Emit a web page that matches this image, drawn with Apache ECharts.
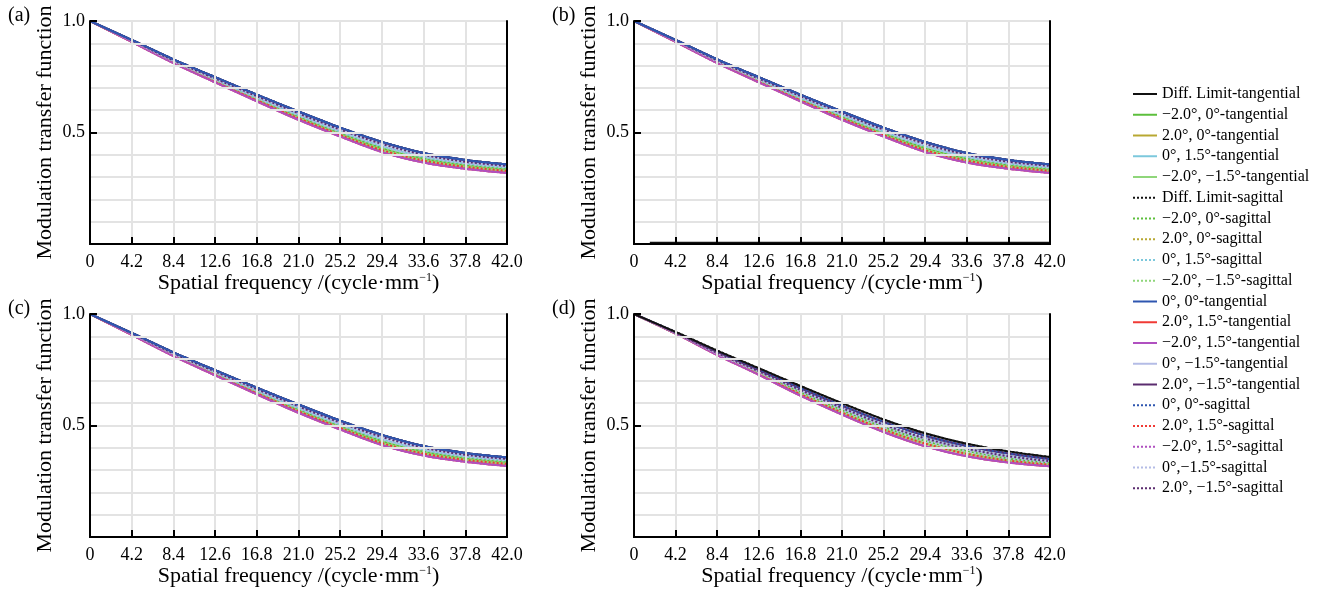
<!DOCTYPE html>
<html>
<head>
<meta charset="utf-8">
<script src="https://cdn.jsdelivr.net/npm/echarts@6/dist/echarts.min.js"></script>
<style>
  html, body { margin: 0; padding: 0; background: #fff; }
  #chart { width: 1324px; height: 592px; }
</style>
</head>
<body>
<div id="chart"></div>
<script>
// spatial frequency samples (cycle/mm)
const freqs = [0, 4.2, 8.4, 12.6, 16.8, 21.0, 25.2, 29.4, 33.6, 37.8, 42.0];

// MTF curves (a)-(c), top to bottom
const curveL1 = [1, 0.915, 0.828, 0.748, 0.670, 0.594, 0.522, 0.458, 0.408, 0.377, 0.357];
const curveL2 = [1, 0.913, 0.823, 0.742, 0.663, 0.586, 0.513, 0.449, 0.400, 0.369, 0.350];
const curveL3 = [1, 0.911, 0.819, 0.737, 0.656, 0.578, 0.504, 0.439, 0.391, 0.361, 0.343];
const curveL4 = [1, 0.910, 0.816, 0.733, 0.650, 0.571, 0.497, 0.430, 0.383, 0.354, 0.336];
const curveL5 = [1, 0.908, 0.814, 0.729, 0.645, 0.564, 0.489, 0.421, 0.374, 0.346, 0.328];
const curveL6 = [1, 0.906, 0.811, 0.725, 0.640, 0.557, 0.482, 0.412, 0.365, 0.337, 0.318];

// MTF curves
const curveD1 = [1, 0.920, 0.836, 0.757, 0.677, 0.600, 0.527, 0.465, 0.418, 0.384, 0.359];
const curveD2 = [1, 0.917, 0.830, 0.749, 0.668, 0.589, 0.516, 0.454, 0.408, 0.374, 0.350];
const curveD3 = [1, 0.915, 0.825, 0.743, 0.659, 0.579, 0.504, 0.442, 0.396, 0.362, 0.340];
const curveD4 = [1, 0.914, 0.822, 0.738, 0.651, 0.569, 0.493, 0.431, 0.385, 0.352, 0.333];
const curveD5 = [1, 0.913, 0.819, 0.732, 0.642, 0.558, 0.482, 0.419, 0.373, 0.343, 0.325];
const curveD6 = [1, 0.912, 0.816, 0.727, 0.634, 0.549, 0.471, 0.407, 0.362, 0.334, 0.317];

// stray black trace along the bottom of panel (b)
const baselineB = [[1.6, 0.005], [42.0, 0.005]];

const legendNames = [
  'Diff. Limit-tangential', '−2.0°, 0°-tangential', '2.0°, 0°-tangential', '0°, 1.5°-tangential', '−2.0°, −1.5°-tangential',
  'Diff. Limit-sagittal', '−2.0°, 0°-sagittal', '2.0°, 0°-sagittal', '0°, 1.5°-sagittal', '−2.0°, −1.5°-sagittal',
  '0°, 0°-tangential', '2.0°, 1.5°-tangential', '−2.0°, 1.5°-tangential', '0°, −1.5°-tangential', '2.0°, −1.5°-tangential',
  '0°, 0°-sagittal', '2.0°, 1.5°-sagittal', '−2.0°, 1.5°-sagittal', '0°,−1.5°-sagittal', '2.0°, −1.5°-sagittal'
];
const lineColors = [
  '#111111', '#5cbf3c', '#b8a832', '#7cc8dc', '#8fd67a',
  '#111111', '#5cbf3c', '#b8a832', '#7cc8dc', '#8fd67a',
  '#2e56b0', '#f03a35', '#b050c0', '#b4bce6', '#5b2c6f',
  '#2e56b0', '#f03a35', '#b050c0', '#b4bce6', '#5b2c6f'
];
const dashed = [0,0,0,0,0, 1,1,1,1,1, 0,0,0,0,0, 1,1,1,1,1];

// which curve each legend entry follows
const curvesABC = [
  curveL1, curveL4, curveL5, curveL3, curveL5,
  curveL1, curveL4, curveL2, curveL3, curveL4,
  curveL1, curveL6, curveL6, curveL2, curveL1,
  curveL1, curveL5, curveL6, curveL3, curveL2
];
const curvesD = [
  curveD1, curveD4, curveD5, curveD3, curveD5,
  curveD1, curveD4, curveD3, curveD3, curveD4,
  curveD2, curveD6, curveD6, curveD3, curveD2,
  curveD2, curveD5, curveD6, curveD4, curveD3
];

const panelLabels = ['(a)', '(b)', '(c)', '(d)'];
const yTicks = [0.5, 1.0];

const chart = echarts.init(document.getElementById('chart'));
const FONT = 'Liberation Serif';

const panels = [
  { left: 90, top: 21, width: 417, curves: curvesABC, topSeries: 10 },
  { left: 634, top: 21, width: 416, curves: curvesABC, topSeries: 10 },
  { left: 90, top: 314, width: 417, curves: curvesABC, topSeries: 10 },
  { left: 634, top: 314, width: 416, curves: curvesD, topSeries: 0 },
];

const grids = [], xAxes = [], yAxes = [], series = [], graphics = [];
const frame = { show: true, lineStyle: { color: '#000', width: 2 } };

panels.forEach((p, i) => {
  grids.push({
    left: p.left, top: p.top, width: p.width, height: 223,
    outerBoundsMode: 'none'
  });
  xAxes.push({
    type: 'value', gridIndex: i, min: 0, max: 42, interval: 4.2,
    name: 'Spatial frequency /(cycle·mm{sup|−1})',
    nameLocation: 'middle', nameGap: 24,
    nameTextStyle: {
      fontFamily: FONT, fontSize: 22, color: '#000', verticalAlign: 'top',
      rich: { sup: { fontFamily: FONT, fontSize: 12, color: '#000', verticalAlign: 'top', padding: [0, 0, 10, 0] } }
    },
    axisLine: frame,
    axisTick: { show: true, inside: true, length: 7, lineStyle: { color: '#000', width: 2 } },
    axisLabel: {
      fontFamily: FONT, fontSize: 18, color: '#000', margin: 9,
      showMinLabel: true, showMaxLabel: true,
      formatter: (v) => (v === 0 ? '0' : v.toFixed(1))
    },
    splitLine: { show: true, lineStyle: { color: '#e3e3e3', width: 2 } },
    z: 5
  });
  // top edge of the frame
  xAxes.push({
    type: 'value', gridIndex: i, min: 0, max: 42, position: 'top',
    axisLine: frame, axisTick: { show: false }, axisLabel: { show: false },
    splitLine: { show: false }, z: 5
  });
  // fine horizontal grid every 0.1
  yAxes.push({
    type: 'value', gridIndex: i, min: 0, max: 1, interval: 0.1,
    axisLine: frame,
    axisTick: { show: false }, axisLabel: { show: false },
    splitLine: { show: true, lineStyle: { color: '#e3e3e3', width: 2 } },
    z: 5
  });
  // labelled ticks at 0.5 and 1.0
  yAxes.push({
    type: 'value', gridIndex: i, min: 0, max: 1, interval: 0.5, position: 'left',
    name: 'Modulation transfer function', nameLocation: 'middle', nameRotate: 90, nameGap: 34,
    nameTextStyle: { fontFamily: FONT, fontSize: 22, color: '#000' },
    axisLine: { show: false },
    axisTick: { show: true, inside: true, length: 7, lineStyle: { color: '#000', width: 2 } },
    axisLabel: {
      fontFamily: FONT, fontSize: 18, color: '#000', margin: 5,
      formatter: (v) => (yTicks.indexOf(v) >= 0 ? v.toFixed(1) : '')
    },
    splitLine: { show: false }, z: 5
  });
  // right edge of the frame
  yAxes.push({
    type: 'value', gridIndex: i, min: 0, max: 1, position: 'right',
    axisLine: frame, axisTick: { show: false }, axisLabel: { show: false },
    splitLine: { show: false }, z: 5
  });

  legendNames.forEach((name, k) => {
    series.push({
      name, type: 'line', xAxisIndex: i * 2, yAxisIndex: i * 3,
      data: freqs.map((f, j) => [f, p.curves[k][j]]),
      smooth: 0.3, symbol: 'none', showSymbol: false,
      lineStyle: { color: lineColors[k], width: 2, type: dashed[k] ? [2, 2] : 'solid' },
      itemStyle: { color: lineColors[k] },
      z: k === p.topSeries ? 4 : 2
    });
  });

  graphics.push({
    type: 'text', left: p.left - 82, top: p.top - 15,
    style: { text: panelLabels[i], fontFamily: FONT, fontSize: 20, fill: '#000' }
  });
});

series.push({
  name: legendNames[0], type: 'line', xAxisIndex: 2, yAxisIndex: 3,
  data: baselineB, symbol: 'none', showSymbol: false,
  lineStyle: { color: '#111', width: 2.5 }, itemStyle: { color: '#111' }
});

chart.setOption({
  animation: false,
  backgroundColor: '#fff',
  grid: grids,
  xAxis: xAxes,
  yAxis: yAxes,
  series,
  graphic: graphics,
  legend: {
    data: legendNames, orient: 'vertical', left: 1127, top: 81,
    itemWidth: 24, itemHeight: 16, itemGap: 4.75,
    itemStyle: { opacity: 0 },
    textStyle: { fontFamily: FONT, fontSize: 16, color: '#000' }
  }
});
</script>
</body>
</html>
